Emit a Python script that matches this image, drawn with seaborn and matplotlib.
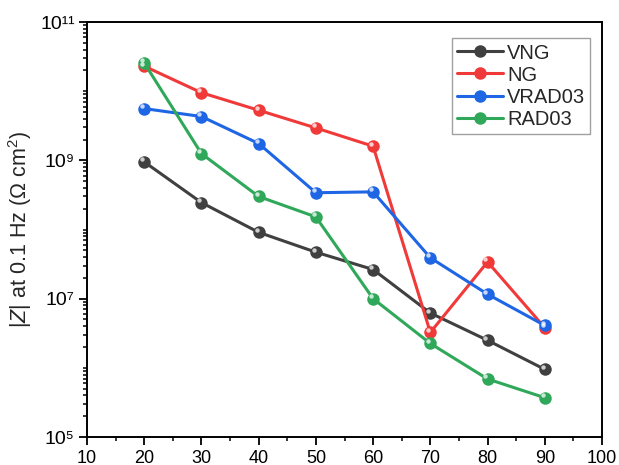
import numpy as np
import pandas as pd
import seaborn as sns
import matplotlib
matplotlib.use("Agg")
import matplotlib.pyplot as plt
import matplotlib.transforms as mtransforms
from matplotlib.ticker import FixedLocator, NullFormatter, MultipleLocator

# ---- data ----
x_vals = [20, 30, 40, 50, 60, 70, 80, 90]
vng = [9.5e8, 2.45e8, 9.1e7, 4.7e7, 2.64e7, 6.2e6, 2.5e6, 9.5e5]
ng = [2.3e10, 9.5e9, 5.3e9, 2.94e9, 1.6e9, 3.25e6, 3.4e7, 3.8e6]
vrad03 = [5.6e9, 4.3e9, 1.75e9, 3.4e8, 3.5e8, 3.9e7, 1.16e7, 4.1e6]
rad03 = [2.56e10, 1.25e9, 3.0e8, 1.52e8, 1.0e7, 2.25e6, 6.9e5, 3.7e5]
series_names = ["VNG", "NG", "VRAD03", "RAD03"]
colors = ["#404040", "#f03a3a", "#1f66e5", "#2fa85a"]
y_tick_values = [1e5, 1e7, 1e9, 1e11]
y_tick_labels = ["10\u2075", "10\u2077", "10\u2079", "10\u00b9\u00b9"]

df = pd.concat([
    pd.DataFrame({"x": x_vals, "y": vals, "series": name})
    for name, vals in zip(series_names, [vng, ng, vrad03, rad03])
], ignore_index=True)

sns.set_style("white")
plt.rcParams["font.family"] = ["Liberation Sans", "DejaVu Sans"]
plt.rcParams["mathtext.fontset"] = "custom"
plt.rcParams["mathtext.rm"] = "Liberation Sans"
plt.rcParams["mathtext.it"] = "Liberation Sans:italic"

fig = plt.figure(figsize=(6.19, 4.65), dpi=100)
ax = fig.add_axes([87/619, 1 - 437/465, (602-87)/619, (437-22)/465])

palette = dict(zip(series_names, colors))
sns.lineplot(data=df, x="x", y="y", hue="series", palette=palette,
             hue_order=series_names, marker="o", markersize=9,
             linewidth=2.2, markeredgewidth=0, ax=ax, legend=True)

# sphere-like highlights on markers
hl = mtransforms.offset_copy(ax.transData, fig=fig, x=-1.5, y=1.8, units="points")
for name in series_names:
    sub = df[df["series"] == name]
    ax.plot(sub["x"], sub["y"], linestyle="none", marker="o", markersize=3.2,
            markerfacecolor="white", markeredgewidth=0, alpha=0.75,
            transform=hl, zorder=5)

ax.set_yscale("log")
ax.set_xlim(10, 100)
ax.set_ylim(1e5, 1e11)

ax.xaxis.set_major_locator(MultipleLocator(10))
ax.xaxis.set_minor_locator(MultipleLocator(5))
ax.yaxis.set_major_locator(FixedLocator(y_tick_values))
minor = []
for e in range(5, 11):
    for m in range(1, 10):
        v = m * 10.0 ** e
        if v not in y_tick_values and v <= 1e11:
            minor.append(v)
ax.yaxis.set_minor_locator(FixedLocator(minor))
ax.yaxis.set_minor_formatter(NullFormatter())
ax.set_yticklabels(y_tick_labels)

ax.tick_params(axis="both", which="major", direction="out", length=6, width=1.3,
               labelsize=13, color="black", labelcolor="black", pad=3,
               bottom=True, left=True, top=False, right=False)
ax.tick_params(axis="y", which="major", labelsize=14)
ax.tick_params(axis="both", which="minor", direction="out", length=3, width=1.1,
               color="black", bottom=True, left=True, top=False, right=False)

for sp in ax.spines.values():
    sp.set_color("black")
    sp.set_linewidth(1.4)

ax.set_xlabel("")
ax.set_ylabel(r"|$Z$| at 0.1 Hz ($\Omega$ cm$^{2}$)", fontsize=15.5, labelpad=4)

handles, labels = ax.get_legend_handles_labels()
leg = ax.legend(handles, labels, loc="upper right", bbox_to_anchor=(0.985, 0.97),
                fontsize=14.5, frameon=True, fancybox=False, edgecolor="#888888",
                handlelength=2.3, handletextpad=0.2, borderpad=0.25,
                labelspacing=0.15, borderaxespad=0.2)
leg.get_frame().set_linewidth(1.0)

fig.savefig("out.png", dpi=100)
